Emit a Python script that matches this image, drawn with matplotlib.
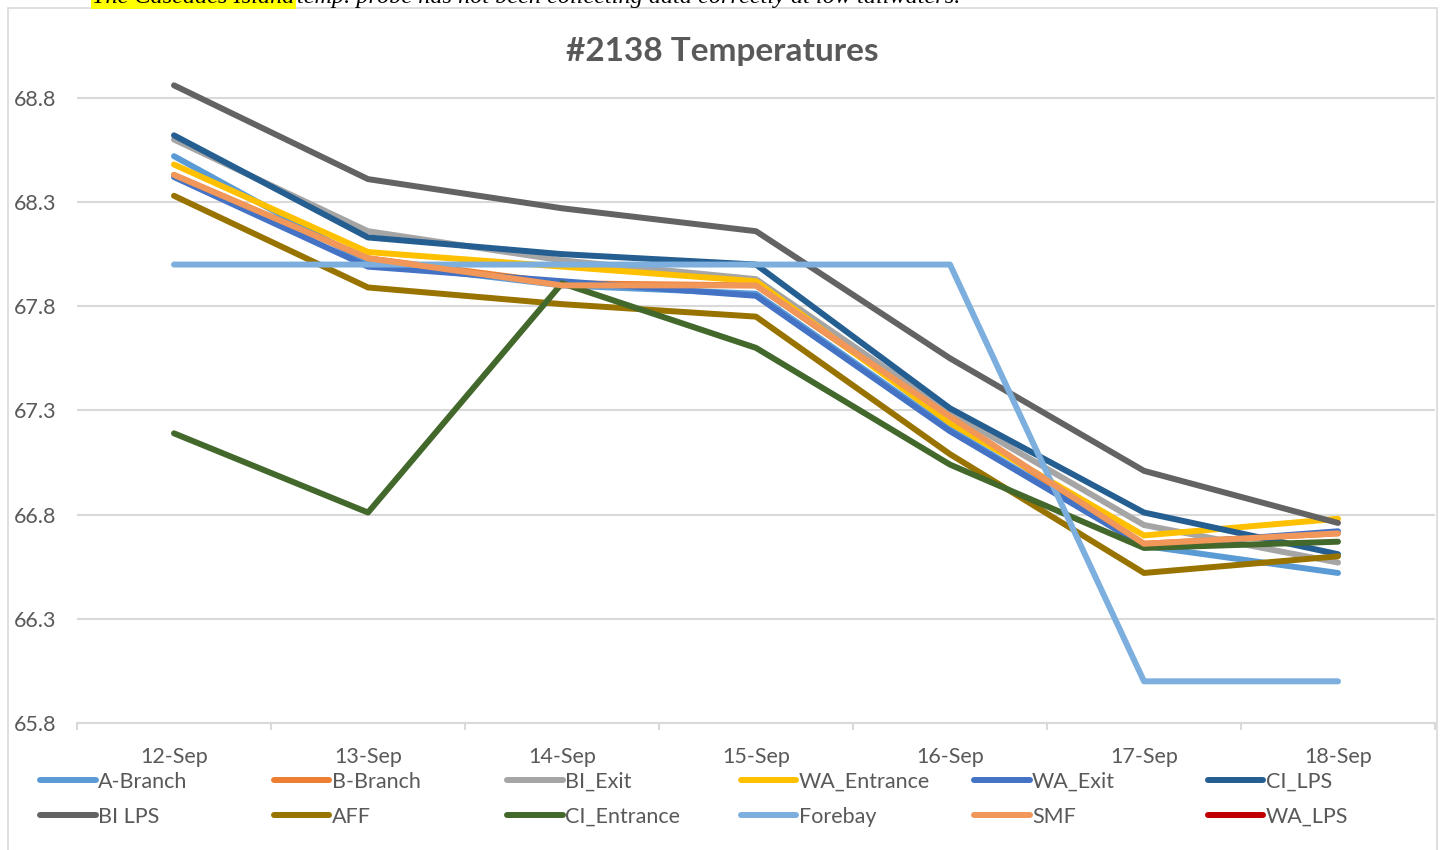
import numpy as np
import matplotlib
matplotlib.use('Agg')
import matplotlib.pyplot as plt
from matplotlib.patches import Rectangle
from matplotlib.lines import Line2D

# data
dates = ['12-Sep', '13-Sep', '14-Sep', '15-Sep', '16-Sep', '17-Sep', '18-Sep']

a_branch = [68.52, 68.01, 67.90, 67.86, 67.21, 66.65, 66.52]
b_branch = [68.43, 68.03, 67.91, 67.90, 67.26, 66.66, 66.71]
bi_exit = [68.60, 68.16, 68.02, 67.93, 67.29, 66.75, 66.57]
wa_entrance = [68.48, 68.06, 67.99, 67.92, 67.24, 66.70, 66.78]
wa_exit = [68.42, 67.99, 67.92, 67.85, 67.20, 66.65, 66.72]
ci_lps = [68.62, 68.13, 68.05, 68.00, 67.31, 66.81, 66.61]
bi_lps = [68.86, 68.41, 68.27, 68.16, 67.55, 67.01, 66.76]
aff = [68.33, 67.89, 67.81, 67.75, 67.09, 66.52, 66.60]
ci_entrance = [67.19, 66.81, 67.91, 67.60, 67.04, 66.64, 66.67]
forebay = [68.0, 68.0, 68.0, 68.0, 68.0, 66.0, 66.0]
smf = [68.43, 68.03, 67.90, 67.90, 67.27, 66.66, 66.71]
wa_lps = [np.nan] * 7  # no readings shown

names = ['A-Branch', 'B-Branch', 'BI_Exit', 'WA_Entrance', 'WA_Exit', 'CI_LPS',
         'BI LPS', 'AFF', 'CI_Entrance', 'Forebay', 'SMF', 'WA_LPS']
series = [a_branch, b_branch, bi_exit, wa_entrance, wa_exit, ci_lps,
          bi_lps, aff, ci_entrance, forebay, smf, wa_lps]
colors = ['#5B9BD5', '#ED7D31', '#A5A5A5', '#FFC000', '#4472C4', '#255E91',
          '#636363', '#997300', '#43682B', '#7CAFDD', '#F1975A', '#C00000']

yticks = [65.8, 66.3, 66.8, 67.3, 67.8, 68.3, 68.8]

W, H = 1440, 850
txt_color = '#595959'
grid_color = '#D9D9D9'
font = 'Lato'

fig = plt.figure(figsize=(W / 100, H / 100), dpi=100)
ax = fig.add_axes([77 / W, 1 - 723 / H, (1435 - 77) / W, (723 - 77) / H])

x = np.arange(len(dates))
for name, vals, c in zip(names, series, colors):
    ax.plot(x, vals, color=c, lw=4.3, solid_capstyle='round', solid_joinstyle='round', label=name)

ax.set_xlim(-0.5, len(dates) - 0.5)
ax.set_ylim(65.8, 68.9)
ax.set_yticks(yticks)
ax.set_yticklabels([f'{v:.1f}' for v in yticks])
ax.set_xticks(x)
ax.set_xticklabels(dates)
ax.set_xticks(np.arange(len(dates) + 1) - 0.5, minor=True)

ax.grid(axis='y', color=grid_color, lw=1.5)
ax.set_axisbelow(True)
for s in ['top', 'right', 'left']:
    ax.spines[s].set_visible(False)
ax.spines['bottom'].set_color(grid_color)
ax.spines['bottom'].set_linewidth(1.5)

ax.tick_params(axis='y', length=0, pad=15, labelsize=15.5, labelcolor=txt_color)
ax.tick_params(axis='x', which='major', length=0, pad=17, labelsize=15.5, labelcolor=txt_color)
ax.tick_params(axis='x', which='minor', length=5, width=1.5, color=grid_color)
for lab in ax.get_xticklabels() + ax.get_yticklabels():
    lab.set_fontfamily(font)

# title
fig.text(722 / W, 1 - 51 / H, '#2138 Temperatures', ha='center', va='center',
         fontsize=24, fontweight='bold', color=txt_color, fontfamily=font)

# legend, two rows of six like the excel one
x0, dx = 40, 233.5
rows_y = [782, 817]
for i, (name, c) in enumerate(zip(names, colors)):
    col, row = i % 6, i // 6
    h = Line2D([], [], color=c, lw=4.3, solid_capstyle='round')
    fig.legend(handles=[h], labels=[name], loc='center left',
               bbox_to_anchor=((x0 + col * dx) / W, 1 - rows_y[row] / H),
               frameon=False, handlelength=2.6, handletextpad=0.1,
               borderpad=0, borderaxespad=0,
               prop={'family': font, 'size': 15.5}, labelcolor=txt_color)

# chart border
fig.patches.append(Rectangle((8 / W, -0.02), (1437 - 8) / W, 1 - 8 / H + 0.02,
                             transform=fig.transFigure, fill=False,
                             ec=grid_color, lw=1.2))

# caption above the chart, cut off by the top edge
t1 = fig.text(92 / W, 1 - 3 / H, 'The Cascades Island', ha='left', va='baseline',
              fontsize=17.5, style='italic', fontfamily='Liberation Serif',
              bbox=dict(facecolor='#FFFF00', edgecolor='none', pad=1))
fig.canvas.draw()
bb = t1.get_window_extent()
fig.text(bb.x1 / W + 3 / W, 1 - 3 / H,
         'temp. probe has not been collecting data correctly at low tailwaters.',
         ha='left', va='baseline', fontsize=17.5, style='italic',
         fontfamily='Liberation Serif')

fig.savefig('out.png', dpi=100)
